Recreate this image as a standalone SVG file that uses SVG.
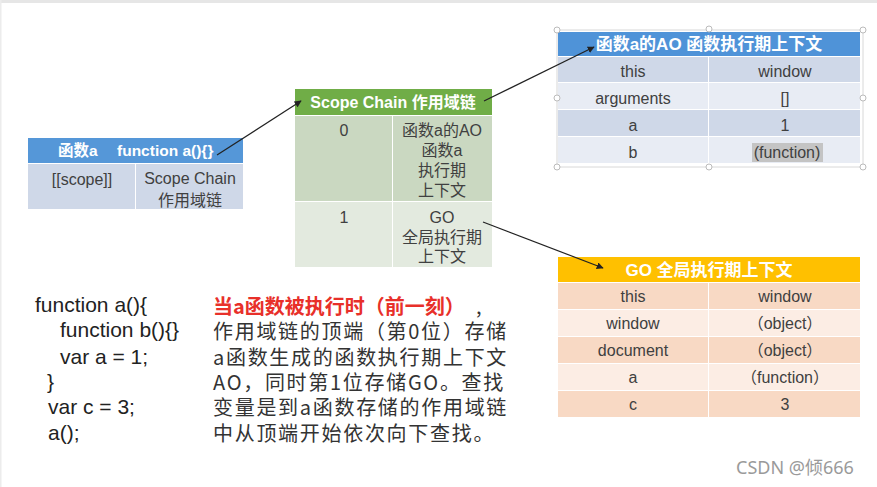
<svg xmlns="http://www.w3.org/2000/svg" width="877" height="487" viewBox="0 0 877 487">
<defs>
<marker id="ah" viewBox="0 0 10 10" refX="9" refY="5" markerWidth="7" markerHeight="7" orient="auto" markerUnits="userSpaceOnUse">
<path d="M0,0 L10,5 L0,10 z" fill="#222"/>
</marker>
<style>
.hdr{font-family:"Liberation Sans","Noto Sans CJK SC",sans-serif;font-size:16px;font-weight:bold;fill:#fff;text-anchor:middle}
.cell{font-family:"Liberation Sans","Noto Sans CJK SC",sans-serif;font-size:16px;fill:#404040;text-anchor:middle}
.code{font-family:"Liberation Sans",sans-serif;font-size:21px;fill:#222}
.para{font-family:"Noto Sans CJK SC",sans-serif;font-size:20px;fill:#333;letter-spacing:1.7px}
.conn{stroke:#222;stroke-width:1.2;fill:none;marker-end:url(#ah)}
.handle{fill:#fff;stroke:#bbb;stroke-width:1}
</style>
</defs>
<rect x="0" y="0" width="877" height="487" fill="#fff"/>
<rect x="0" y="0" width="877" height="3" fill="#e6e6e6"/>
<rect x="0" y="0" width="1.5" height="487" fill="#ececec"/>

<g id="func-a">
<rect x="28" y="138" width="215" height="25" fill="#5597d8"/>
<rect x="28" y="164" width="107" height="45" fill="#cfd8e8"/>
<rect x="136" y="164" width="107" height="45" fill="#cfd8e8"/>
<text class="hdr" x="58" y="156" style="text-anchor:start;font-size:15.5px">函数a</text>
<text class="hdr" x="117" y="156" style="text-anchor:start;font-size:15.5px">function a(){}</text>
<text class="cell" x="82" y="185">[[scope]]</text>
<text class="cell" x="190" y="184">Scope Chain</text>
<text class="cell" x="190" y="206">作用域链</text>
</g>

<g id="scope-chain">
<rect x="295" y="89" width="197" height="26" fill="#70ad47"/>
<rect x="295" y="116" width="97" height="85" fill="#cad8c1"/>
<rect x="393" y="116" width="99" height="85" fill="#cad8c1"/>
<rect x="295" y="202" width="97" height="65" fill="#e3eadf"/>
<rect x="393" y="202" width="99" height="65" fill="#e3eadf"/>
<text class="hdr" x="393" y="108">Scope Chain 作用域链</text>
<text class="cell" x="344" y="136">0</text>
<text class="cell" x="442" y="136">函数a的AO</text>
<text class="cell" x="442" y="156">函数a</text>
<text class="cell" x="442" y="176">执行期</text>
<text class="cell" x="442" y="196">上下文</text>
<text class="cell" x="344" y="223">1</text>
<text class="cell" x="442" y="223">GO</text>
<text class="cell" x="442" y="243">全局执行期</text>
<text class="cell" x="442" y="262">上下文</text>
</g>

<g id="ao-table">
<rect x="557" y="30" width="306" height="137" fill="none" stroke="#d8d8d8" stroke-width="1"/>
<rect x="558" y="32" width="302" height="24" fill="#4f93d8"/>
<rect x="558" y="57" width="150" height="25" fill="#cfd8e8"/>
<rect x="709" y="57" width="151" height="25" fill="#cfd8e8"/>
<rect x="558" y="83" width="150" height="26" fill="#e8ecf4"/>
<rect x="709" y="83" width="151" height="26" fill="#e8ecf4"/>
<rect x="558" y="110" width="150" height="26" fill="#cfd8e8"/>
<rect x="709" y="110" width="151" height="26" fill="#cfd8e8"/>
<rect x="558" y="137" width="150" height="26" fill="#e8ecf4"/>
<rect x="709" y="137" width="151" height="26" fill="#e8ecf4"/>
<rect x="752" y="143" width="71" height="19" fill="#c4c4c4"/>
<text class="hdr" x="709" y="50" style="font-size:17px">函数a的AO 函数执行期上下文</text>
<text class="cell" x="633" y="77">this</text>
<text class="cell" x="785" y="77">window</text>
<text class="cell" x="633" y="104">arguments</text>
<text class="cell" x="785" y="104">[]</text>
<text class="cell" x="633" y="131">a</text>
<text class="cell" x="785" y="131">1</text>
<text class="cell" x="633" y="158">b</text>
<text class="cell" x="787" y="158">(function)</text>
<circle class="handle" cx="557" cy="30" r="3"/>
<circle class="handle" cx="709" cy="29" r="3"/>
<circle class="handle" cx="863" cy="30" r="3"/>
<circle class="handle" cx="557" cy="98" r="3"/>
<circle class="handle" cx="863" cy="98" r="3"/>
<circle class="handle" cx="557" cy="167" r="3"/>
<circle class="handle" cx="709" cy="167" r="3"/>
<circle class="handle" cx="863" cy="167" r="3"/>
</g>

<g id="go-table">
<rect x="558" y="257" width="302" height="25" fill="#ffc000"/>
<rect x="558" y="283" width="150" height="26" fill="#f8d9c4"/>
<rect x="709" y="283" width="151" height="26" fill="#f8d9c4"/>
<rect x="558" y="310" width="150" height="26" fill="#fcede4"/>
<rect x="709" y="310" width="151" height="26" fill="#fcede4"/>
<rect x="558" y="337" width="150" height="26" fill="#f8d9c4"/>
<rect x="709" y="337" width="151" height="26" fill="#f8d9c4"/>
<rect x="558" y="364" width="150" height="26" fill="#fcede4"/>
<rect x="709" y="364" width="151" height="26" fill="#fcede4"/>
<rect x="558" y="391" width="150" height="26" fill="#f8d9c4"/>
<rect x="709" y="391" width="151" height="26" fill="#f8d9c4"/>
<text class="hdr" x="709" y="276" style="font-size:17px">GO 全局执行期上下文</text>
<text class="cell" x="633" y="302">this</text>
<text class="cell" x="785" y="302">window</text>
<text class="cell" x="633" y="329">window</text>
<text class="cell" x="785" y="329">（object）</text>
<text class="cell" x="633" y="356">document</text>
<text class="cell" x="785" y="356">（object）</text>
<text class="cell" x="633" y="383">a</text>
<text class="cell" x="785" y="383">（function）</text>
<text class="cell" x="633" y="410">c</text>
<text class="cell" x="785" y="410">3</text>
</g>

<g id="connectors">
<line class="conn" x1="217" y1="155" x2="301" y2="101"/>
<line class="conn" x1="484" y1="101" x2="594" y2="47"/>
<line class="conn" x1="483" y1="222" x2="603" y2="268"/>
</g>

<g id="code">
<text class="code" x="35" y="312">function a(){</text>
<text class="code" x="60" y="337">function b(){}</text>
<text class="code" x="60" y="364">var a = 1;</text>
<text class="code" x="47" y="389">}</text>
<text class="code" x="48" y="414">var c = 3;</text>
<text class="code" x="48" y="440">a();</text>
</g>

<g id="explanation">
<text class="para" x="213" y="314" font-weight="bold" style="fill:#e8302a;letter-spacing:0">当a函数被执行时（前一刻）</text>
<text class="para" x="476" y="314" style="letter-spacing:0">,</text>
<text class="para" x="213" y="339">作用域链的顶端（第0位）存储</text>
<text class="para" x="213" y="365">a函数生成的函数执行期上下文</text>
<text class="para" x="213" y="390">AO，同时第1位存储GO。查找</text>
<text class="para" x="213" y="415">变量是到a函数存储的作用域链</text>
<text class="para" x="213" y="441">中从顶端开始依次向下查找。</text>
</g>

<text x="736" y="474" font-family="'Noto Sans','Noto Sans CJK SC',sans-serif" font-size="18" fill="#9a9a9a">CSDN @倾666</text>
</svg>
